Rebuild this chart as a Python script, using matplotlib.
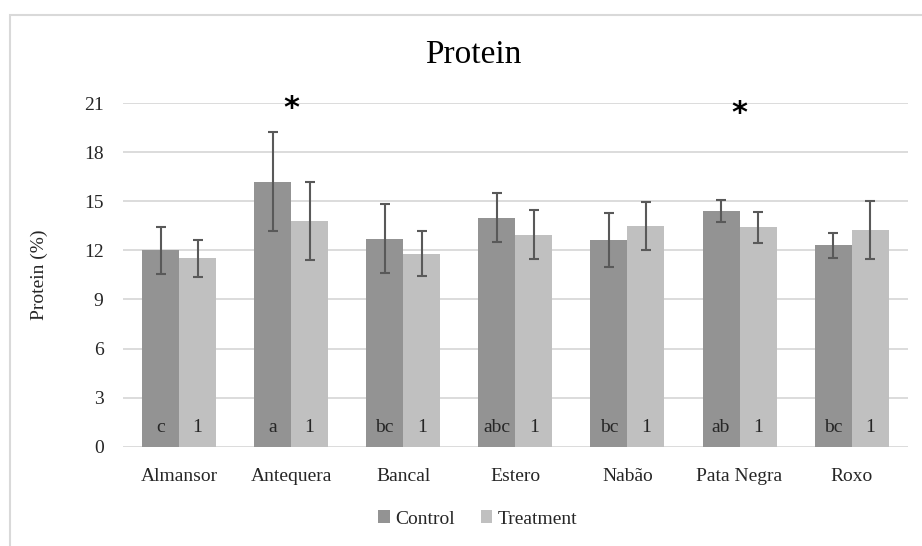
import matplotlib
matplotlib.use("Agg")
import matplotlib.pyplot as plt
import numpy as np
from matplotlib.patches import Rectangle

categories = ["Almansor", "Antequera", "Bancal", "Estero", "Nabão", "Pata Negra", "Roxo"]
control = [12.0, 16.2, 12.7, 14.0, 12.6, 14.4, 12.3]
control_err = [1.45, 3.0, 2.1, 1.5, 1.65, 0.65, 0.77]
treatment = [11.5, 13.8, 11.8, 12.95, 13.5, 13.4, 13.25]
treatment_err = [1.15, 2.4, 1.37, 1.5, 1.47, 0.96, 1.77]
control_letters = ["c", "a", "bc", "abc", "bc", "ab", "bc"]
treatment_letters = ["1", "1", "1", "1", "1", "1", "1"]
star_categories = ["Antequera", "Pata Negra"]
star_values = [20.65, 20.35]
yticks = [0, 3, 6, 9, 12, 15, 18, 21]

plt.rcParams['font.family'] = ['Liberation Serif', 'DejaVu Serif']

W, H = 922, 546
fig = plt.figure(figsize=(W / 100, H / 100), dpi=100)
ax = fig.add_axes([123 / W, (H - 446.7) / H, (907.7 - 123) / W, (446.7 - 103) / H])

c_col = "#939393"
t_col = "#c0c0c0"
e_col = "#595959"
txt_col = "#262626"
fs = 14

x = np.arange(len(categories))
bw = 0.33
ax.bar(x - bw / 2, control, bw, color=c_col, label="Control", zorder=2)
ax.bar(x + bw / 2, treatment, bw, color=t_col, label="Treatment", zorder=2)
ax.errorbar(x - bw / 2, control, yerr=control_err, fmt="none", ecolor=e_col,
            elinewidth=1.5, capsize=3.5, capthick=1.5, zorder=3)
ax.errorbar(x + bw / 2, treatment, yerr=treatment_err, fmt="none", ecolor=e_col,
            elinewidth=1.5, capsize=3.5, capthick=1.5, zorder=3)

for i in range(len(categories)):
    ax.text(x[i] - bw / 2, 1.2, control_letters[i], ha="center", va="center",
            fontsize=fs, color=txt_col, zorder=4)
    ax.text(x[i] + bw / 2, 1.2, treatment_letters[i], ha="center", va="center",
            fontsize=fs, color=txt_col, zorder=4)

for cat, v in zip(star_categories, star_values):
    i = categories.index(cat)
    ax.text(x[i], v, "*", ha="center", va="center", fontsize=22,
            fontweight="bold", family="DejaVu Sans", color="black",
            clip_on=False, zorder=5)

ax.set_xlim(-0.5, len(categories) - 0.5)
ax.set_ylim(0, 21)
ax.set_yticks(yticks)
ax.set_yticklabels([str(t) for t in yticks])
ax.set_xticks(x)
ax.set_xticklabels(categories)
ax.tick_params(axis="both", length=0, labelsize=fs, colors=txt_col)
ax.tick_params(axis="y", pad=14)
ax.tick_params(axis="x", pad=15)
ax.grid(axis="y", color="#d9d9d9", linewidth=1.3, zorder=0)
ax.set_axisbelow(True)
for s in ax.spines.values():
    s.set_visible(False)

ax.set_ylabel("Protein (%)", fontsize=fs, color=txt_col, labelpad=26)

fig.text(473 / W, 1 - 55 / H, "Protein", ha="center", va="center",
         fontsize=24, color="black")

leg = fig.legend(loc="center", bbox_to_anchor=(478 / W, 1 - 519 / H), ncol=2,
                 frameon=False, fontsize=fs, handlelength=0.6,
                 handleheight=0.6, handletextpad=0.3, columnspacing=1.3)
for t in leg.get_texts():
    t.set_color(txt_col)

fig.patches.append(Rectangle((10 / W, -0.1), 1.2, (1 - 15 / H) + 0.1,
                             transform=fig.transFigure, fill=False,
                             edgecolor="#d9d9d9", linewidth=1.5))

fig.savefig("out.png", dpi=100)
